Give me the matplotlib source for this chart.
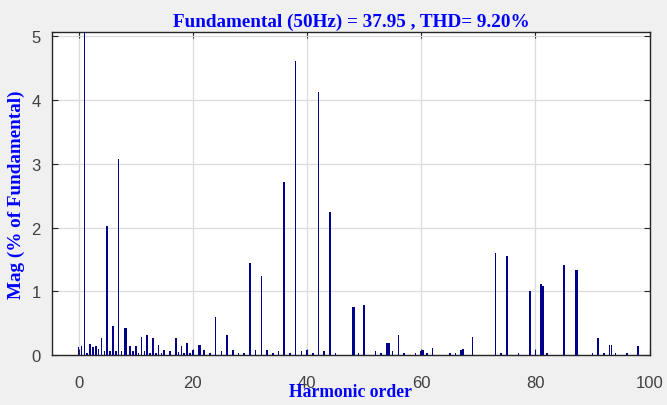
import matplotlib
matplotlib.use("Agg")
import matplotlib.pyplot as plt

# 谐波次数与幅值 (% of Fundamental)
orders = [0, 0.5, 1, 1.5, 2, 2.5, 3, 3.5, 4, 4.5, 5, 5.5, 6, 6.5, 7, 7.5, 8, 8.3,
          9, 9.5, 10, 10.5, 11, 11.5, 12, 12.5, 13, 13.5, 14, 14.5, 15, 16,
          17, 17.5, 18, 18.5, 19, 19.5, 20, 21, 21.3, 22, 23, 24, 25, 26, 27,
          28, 29, 30, 31, 32, 33, 34, 35, 36, 37, 38, 39, 40, 41, 42, 43, 44,
          45, 48, 48.3, 49, 50, 52, 53, 54, 54.3, 55, 56, 57, 59, 60, 60.3, 61,
          62, 65, 66, 67, 67.3, 69, 73, 74, 75, 77, 79, 80, 81, 81.3, 82, 85,
          87, 87.3, 90, 91, 92, 93, 93.3, 94, 96, 98]
mags = [0.13, 0.14, 100, 0.04, 0.18, 0.12, 0.14, 0.10, 0.26, 0.07, 2.03, 0.06,
        0.45, 0.07, 3.07, 0.06, 0.42, 0.42,
        0.14, 0.07, 0.14, 0.04, 0.29, 0.07, 0.32, 0.04, 0.26, 0.03, 0.16, 0.03,
        0.08, 0.06,
        0.26, 0.05, 0.14, 0.03, 0.19, 0.03, 0.08, 0.16, 0.16, 0.08, 0.03, 0.60,
        0.06, 0.31, 0.08,
        0.03, 0.03, 1.44, 0.08, 1.24, 0.08, 0.03, 0.06, 2.72, 0.03, 4.62, 0.06,
        0.08, 0.03, 4.13, 0.06, 2.25,
        0.03, 0.75, 0.75, 0.03, 0.78, 0.06, 0.03, 0.19, 0.19, 0.06, 0.32, 0.03,
        0.03, 0.06, 0.08, 0.03,
        0.11, 0.03, 0.03, 0.08, 0.10, 0.29, 1.60, 0.03, 1.55, 0.03, 1.01, 0.08,
        1.11, 1.08, 0.03, 1.42,
        1.34, 1.34, 0.03, 0.26, 0.03, 0.16, 0.16, 0.03, 0.03, 0.14]

x_ticks = [0, 20, 40, 60, 80, 100]
y_ticks = [0, 1, 2, 3, 4, 5]
title_text = 'Fundamental (50Hz) = 37.95 , THD= 9.20%'

fig = plt.figure(figsize=(6.67, 4.06), dpi=100, facecolor='#f0f0f0')
ax = fig.add_axes([0.078, 0.123, 0.896, 0.796])
ax.set_facecolor('white')

ax.bar(orders, mags, width=0.28, color='#00008b', linewidth=0, zorder=3)

ax.set_xlim(-4.66, 100)
ax.set_ylim(0, 5.07)
ax.set_xticks(x_ticks)
ax.set_yticks(y_ticks)
ax.grid(True, color='#dcdcdc', linewidth=0.9, zorder=0)
ax.tick_params(direction='in', top=True, right=True, length=4,
               labelsize=12, labelcolor='#404040', color='#262626')
ax.tick_params(axis='x', pad=14)
ax.tick_params(axis='y', pad=8)
for lab in ax.get_xticklabels() + ax.get_yticklabels():
    lab.set_family('Liberation Sans')
for sp in ax.spines.values():
    sp.set_color('#262626')
    sp.set_linewidth(1.0)

serif = {'family': 'Liberation Serif', 'weight': 'bold', 'color': '#0000ff'}
ax.set_title(title_text, fontsize=13.8, pad=4, **serif)
ax.set_xlabel('Harmonic order', fontsize=12.7, labelpad=-5, **serif)
ax.set_ylabel('Mag (% of Fundamental)', fontsize=13.8, labelpad=5, **serif)

fig.savefig('out.png', dpi=100, facecolor=fig.get_facecolor())
